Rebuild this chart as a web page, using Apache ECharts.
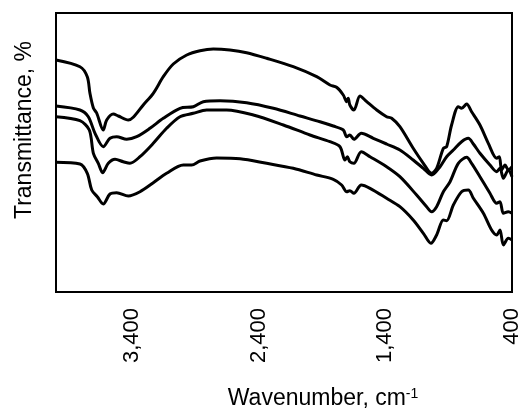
<!DOCTYPE html>
<html><head><meta charset="utf-8">
<script src="https://cdn.jsdelivr.net/npm/echarts@6/dist/echarts.min.js"></script>
<style>html,body{margin:0;padding:0;background:#fff}#c{width:523px;height:413px}</style>
</head><body><div id="c"></div>
<script>
// Wavenumbers (cm-1) and transmittance (arbitrary units) for the four spectra
var s1x=[4000,3811,3753,3732,3705,3679,3627,3600,3548,3508,3429,3390,3311,3232,3153,3074,2968,2863,2758,2627,2495,2337,2127,1942,1837,1785,1732,1705,1693,1680,1648,1600,1547,1468,1390,1350,1285,1180,1100,1035,995,942,916,877,824,798,758,719,653,587,521,500,482,455,429,400];
var s1y=[232,225.3,215.3,198.7,184,179,162,172,178,176,172,174.7,187,198.7,215.3,228,237,241.3,243,242,239.3,233.7,225.3,215.3,207,204.7,197,190.3,193.7,187,182,196,190.3,182,175.3,173.7,165.3,143.7,128.7,118.7,123.7,143.7,145.3,167,185.3,183.7,188,180.3,167,148.7,133.7,135.3,122,127,122,125.3];
var s2x=[4000,3811,3745,3692,3627,3574,3521,3442,3363,3258,3153,3021,2916,2837,2705,2495,2284,2074,1916,1811,1732,1705,1680,1648,1590,1495,1390,1285,1180,1100,1035,968,916,863,798,745,705,653,574,521,495,468,429,400];
var s2y=[186,182,175.3,158.7,145.3,153.7,155.3,152.7,155.3,163.7,173.7,183.7,185.3,190.3,191.3,189.3,183.7,176,170.3,166,162,155.3,157,152.7,158.7,153.7,148,142,132,123.7,117,125.3,135.3,142,150.3,153.7,148,138.7,127,120.3,123.7,113.7,122,115.3];
var s3x=[4000,3811,3737,3705,3666,3632,3587,3534,3469,3416,3337,3232,3127,3021,2916,2811,2653,2442,2205,1995,1837,1758,1719,1700,1680,1648,1590,1521,1390,1285,1153,1074,1035,995,942,889,824,758,719,653,574,521,495,468,429,400];
var s3y=[175.3,171.3,162,138.7,128.7,119.3,128.7,132.7,130.3,128.7,135.3,148.7,163.7,175.3,178.7,182,182,177,167,157,150.3,145.3,132,135.3,130.3,128.7,140.3,135.3,125.3,115.3,97,85.3,80.3,85.3,100.3,110.3,128.7,134.7,128.7,115.3,98.7,88.7,90.3,78.7,80.3,78.7];
var s4x=[4000,3811,3753,3718,3674,3627,3574,3521,3429,3337,3232,3127,2995,2929,2863,2732,2547,2337,2127,1942,1811,1745,1705,1680,1648,1590,1521,1390,1285,1180,1100,1040,995,942,916,863,798,745,705,626,561,521,495,468,429,400];
var s4y=[129.7,128,118.7,102,95.3,88,98,99.3,96,100.3,109.3,118.7,127,127,131,134,133.3,128.7,123.7,117,112.7,107,100.3,101.3,98.7,107,103.7,93.7,85.3,72,58.7,48.7,57,72,71.3,87,100.3,102,93.7,78.7,62,57,62,47,53.7,52];
var xTicks=[400,1400,2400,3400];

function pairs(xs,ys){return xs.map(function(x,i){return [x,ys[i]];});}
var FONT='"Liberation Sans", Arial, sans-serif';
var chart=echarts.init(document.getElementById('c'));
function line(xs,ys){return {type:'line',data:pairs(xs,ys),symbol:'none',smooth:0.3,
  lineStyle:{color:'#000',width:3},itemStyle:{color:'#000'},silent:true};}
chart.setOption({
  animation:false,
  grid:{left:56,right:11,top:13,bottom:121,show:true,borderColor:'#000',borderWidth:2,backgroundColor:'transparent'},
  xAxis:{type:'value',min:400,max:4000,interval:1000,inverse:true,
    axisLine:{show:false},axisTick:{show:false},splitLine:{show:false},
    axisLabel:{rotate:90,margin:16,fontSize:22,color:'#000',fontFamily:FONT,
      formatter:function(v){return xTicks.indexOf(v)>=0?v.toLocaleString('en-US'):'';}}},
  yAxis:{type:'value',min:0,max:279,show:true,axisLine:{show:false},axisTick:{show:false},
    axisLabel:{show:false},splitLine:{show:false}},
  series:[line(s1x,s1y),line(s2x,s2y),line(s3x,s3y),line(s4x,s4y)],
  graphic:[
    {type:'text',x:25,y:130,rotation:Math.PI/2,style:{text:'Transmittance, %',fontSize:23,fontFamily:FONT,fill:'#000',textAlign:'center',textVerticalAlign:'middle'}},
    {type:'text',x:323,y:399,style:{text:'{a|Wavenumber, cm}{s|-1}',textAlign:'center',textVerticalAlign:'middle',
      rich:{a:{fontSize:23,fontFamily:FONT,fill:'#000',color:'#000'},s:{fontSize:14,fontFamily:FONT,color:'#000',verticalAlign:'top',padding:[0,0,10,0]}}}}
  ]
});
</script></body></html>
